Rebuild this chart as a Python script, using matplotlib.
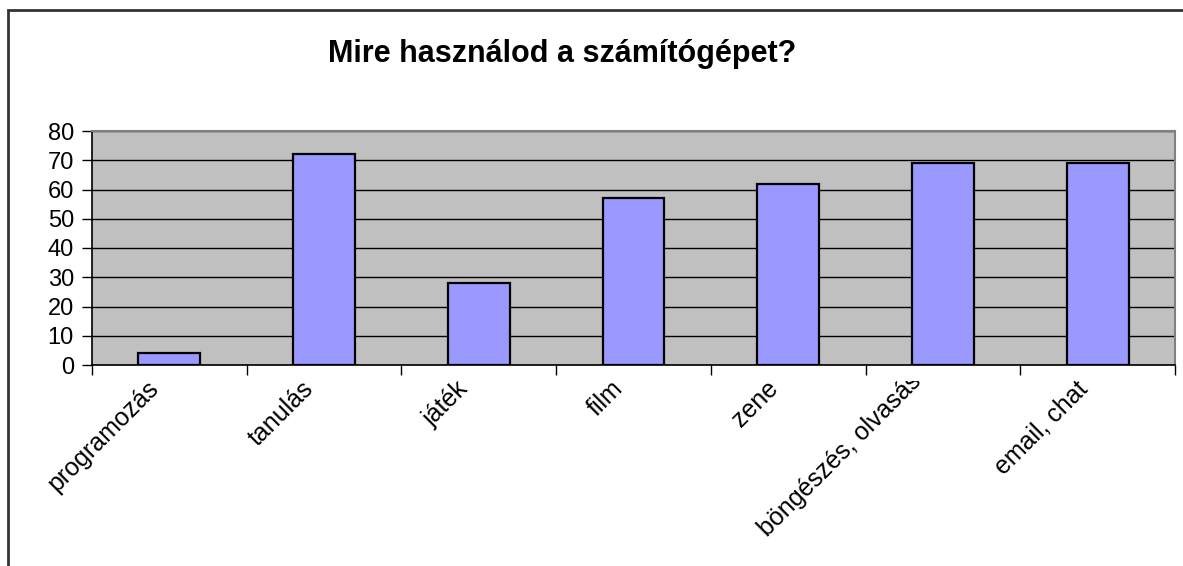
import matplotlib
matplotlib.use("Agg")
import matplotlib.pyplot as plt
import matplotlib.transforms as mtransforms
from matplotlib.patches import Rectangle
import numpy as np

# chart data
title = "Mire használod a számítógépet?"
categories = ["programozás", "tanulás", "játék", "film", "zene",
              "böngészés, olvasás", "email, chat"]
values = [4, 72, 28, 57, 62, 69, 69]
y_ticks = [0, 10, 20, 30, 40, 50, 60, 70, 80]

plt.rcParams['font.family'] = ['Liberation Sans', 'DejaVu Sans']

W, H = 1183, 566
fig = plt.figure(figsize=(W / 100, H / 100), dpi=100)
fig.patch.set_facecolor("white")

# outer chart frame (right and bottom run off the picture)
fig.patches.append(Rectangle((8 / W, -0.1), 1.2, 1 - 10 / H + 0.1,
                             transform=fig.transFigure, fill=False,
                             edgecolor="#333333", linewidth=2, clip_on=False))

ax = fig.add_axes([92 / W, 1 - 365 / H, (1175 - 92) / W, (365 - 131) / H])
ax.set_facecolor("#C0C0C0")

x = np.arange(len(categories))
ax.set_axisbelow(True)
ax.yaxis.grid(True, color="black", linewidth=1)
ax.bar(x, values, width=0.4, color="#9999FF", edgecolor="black", linewidth=1.6, zorder=3)

ax.set_xlim(-0.5, len(categories) - 0.5)
ax.set_ylim(0, 80)
ax.set_yticks(y_ticks)
ax.tick_params(axis="y", labelsize=17, length=7, width=1, pad=6)
ax.set_xticks(np.arange(len(categories) + 1) - 0.5)
ax.set_xticklabels([])
ax.tick_params(axis="x", length=7, width=1)

for side in ["top", "right"]:
    ax.spines[side].set_color("#808080")
    ax.spines[side].set_linewidth(1.5)
for side in ["left", "bottom"]:
    ax.spines[side].set_color("black")
    ax.spines[side].set_linewidth(1.2)

# rotated category labels
clip = mtransforms.Bbox([[0, 0], [W, H - 381]])
for i, lab in enumerate(categories):
    xt = ax.get_xaxis_transform()
    if i == 5:
        # the long label is pushed up and cut off, as in the original
        tr = mtransforms.offset_copy(xt, fig=fig, x=-172, y=-176, units="dots")
        t = fig.text(i, 0, lab, transform=tr, rotation=45, rotation_mode="anchor",
                     ha="left", va="bottom", fontsize=18)
        t.set_clip_box(clip)
        t.set_clip_on(True)
    else:
        tr = mtransforms.offset_copy(xt, fig=fig, x=-14, y=-20, units="dots")
        fig.text(i, 0, lab, transform=tr, rotation=45, rotation_mode="anchor",
                 ha="right", va="center", fontsize=18)

fig.text(562 / W, 1 - 62 / H, title, ha="center", va="baseline",
         fontsize=22, fontweight="bold")

fig.savefig("out.png", dpi=100)
